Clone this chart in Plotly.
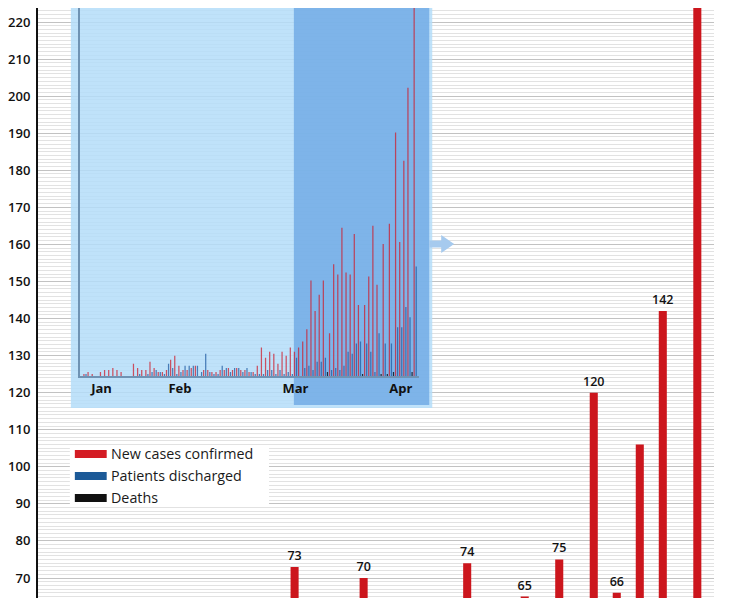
import plotly.graph_objects as go

# daily figures, first reported day -> latest day
NEW_CASES = [1, 2, 1, 0, 2, 3, 3, 4, 3, 2, 0, 0, 6, 4, 3, 3, 7, 4, 2, 2,
             3, 8, 10, 5, 3, 3, 4, 5, 0, 3, 3, 2, 2, 3, 3, 4, 3, 4, 3, 3,
             2, 2, 5, 14, 9, 12, 11, 6, 12, 10, 14, 12, 14, 17, 23, 47, 32, 40, 47, 21,
             55, 50, 73, 51, 50, 70, 35, 35, 49, 74, 45, 65, 75, 120, 66, 106, 142, 248]
DISCHARGED = [1, 0, 0, 0, 0, 0, 0, 0, 0, 0, 0, 0, 0, 1, 0, 1, 2, 3, 2, 1,
              6, 4, 1, 2, 5, 5, 5, 5, 2, 11, 2, 1, 1, 5, 4, 2, 4, 4, 2, 4,
              2, 1, 1, 1, 3, 3, 1, 3, 1, 2, 1, 9, 0, 4, 5, 3, 7, 7, 9, 3,
              4, 3, 5, 12, 11, 16, 17, 16, 12, 2, 21, 16, 16, 24, 24, 34, 29, 54]
DEATHS = [0, 0, 0, 0, 0, 0, 0, 0, 0, 0, 0, 0, 0, 0, 0, 0, 0, 0, 0, 0,
          0, 0, 0, 0, 0, 0, 0, 0, 0, 0, 0, 0, 0, 0, 0, 0, 0, 0, 0, 0,
          0, 0, 0, 0, 0, 0, 0, 0, 0, 0, 0, 0, 0, 0, 0, 0, 0, 0, 2, 0,
          0, 0, 0, 0, 0, 0, 1, 0, 0, 0, 1, 1, 2, 0, 0, 0, 2, 0]

MONTH_LABELS = ["Jan", "Feb", "Mar", "Apr"]
MONTH_LABEL_DAYS = [4, 23, 51, 74]
UNLABELED_DAYS = [75, 77]
VIEW_DAY = 62  # the "73" day, used to place the zoomed window

RED = "#cc161d"
BLUE = "#1c5a98"
BLACK = "#111111"
INSET_RED = "rgba(205,30,45,0.75)"
INSET_BLUE = "rgba(30,90,160,0.75)"
INSET_BLACK = "rgba(0,0,0,0.75)"
FONT = "Open Sans"

W, H = 747, 598
OFF = 8  # page margin around the plot div
L, R = 35 - OFF, W - (714 - OFF)
PW = W - L - R
# y scale: 220 at screen y=22, 70 at y=578
PX_PER_UNIT = (578 - 22) / 150
Y1 = 220 + (22 - OFF) / PX_PER_UNIT
Y0 = 70 - (H + OFF - 578) / PX_PER_UNIT

# each day takes a slot for cases, one for discharged, one more if there were deaths
slots = []
s = 0
for d in DEATHS:
    slots.append(s)
    s += 3 if d > 0 else 2

anchor = slots[VIEW_DAY]
X0, X1 = anchor - 22.3, anchor + 36.45


def dx(px):
    return X0 + (px - 35) / PW * (X1 - X0)


def dy(py):
    return Y1 - (py - OFF) / H * (Y1 - Y0)


def paper_x(px):
    return (px - 35) / PW


def paper_y(py):
    return (H + OFF - py) / H


labels = [
    str(v) if v >= 65 and i not in UNLABELED_DAYS else ""
    for i, v in enumerate(NEW_CASES)
]
death_x = [sl + 2 for sl, d in zip(slots, DEATHS) if d > 0]
death_y = [d for d in DEATHS if d > 0]
blue_x = [sl + 1 for sl in slots]

fig = go.Figure()

# main zoomed chart
fig.add_bar(x=slots, y=NEW_CASES, width=0.7, marker_color=RED, marker_line_width=0,
            text=labels, textposition="outside", constraintext="none", cliponaxis=True,
            textfont=dict(family=FONT, size=12.5, color="#111", weight=600))
fig.add_bar(x=blue_x, y=DISCHARGED, width=0.7, marker_color=BLUE, marker_line_width=0)
fig.add_bar(x=death_x, y=death_y, width=0.7, marker_color=BLACK, marker_line_width=0)

# inset overview
fig.add_bar(x=slots, y=NEW_CASES, width=0.6, marker_color=INSET_RED, marker_line_width=0,
            xaxis="x2", yaxis="y2")
fig.add_bar(x=blue_x, y=DISCHARGED, width=0.6, marker_color=INSET_BLUE, marker_line_width=0,
            xaxis="x2", yaxis="y2")
fig.add_bar(x=death_x, y=death_y, width=0.6, marker_color=INSET_BLACK, marker_line_width=0,
            xaxis="x2", yaxis="y2")

shapes = [
    dict(type="rect", xref="x", yref="y", layer="between",
         x0=dx(68), x1=dx(431), y0=dy(408), y1=dy(-5),
         fillcolor="#b4ddf9", opacity=0.85, line_width=0),
    dict(type="rect", xref="x", yref="y", layer="between",
         x0=dx(292), x1=dx(428), y0=dy(405), y1=dy(-5),
         fillcolor="#72ace5", opacity=0.85, line_width=0),
    dict(type="path", xref="x", yref="y", layer="between",
         path=(f"M{dx(428)},{dy(240.5)} L{dx(440)},{dy(240.5)} L{dx(440)},{dy(235)} "
               f"L{dx(453)},{dy(244)} L{dx(440)},{dy(253)} L{dx(440)},{dy(247.5)} "
               f"L{dx(428)},{dy(247.5)} Z"),
         fillcolor="#a6caee", line_width=0),
    dict(type="rect", xref="paper", yref="paper", layer="above",
         x0=paper_x(67), x1=paper_x(267), y0=paper_y(507), y1=paper_y(445),
         fillcolor="white", line_width=0),
]
annotations = []
for i, (name, color) in enumerate([("New cases confirmed", "#d41c24"),
                                   ("Patients discharged", BLUE),
                                   ("Deaths", BLACK)]):
    cy = 454 + 22 * i
    shapes.append(dict(type="rect", xref="paper", yref="paper", layer="above",
                       x0=paper_x(72), x1=paper_x(104), y0=paper_y(cy + 4), y1=paper_y(cy - 4),
                       fillcolor=color, line_width=0))
    annotations.append(dict(text=name, xref="paper", yref="paper", x=paper_x(106),
                            y=paper_y(cy - 1), xanchor="left", yanchor="middle",
                            showarrow=False,
                            font=dict(family=FONT, size=14.3, color="#1a1a1a")))

fig.update_layout(
    width=W, height=H,
    margin=dict(l=L, r=R, t=0, b=0),
    paper_bgcolor="white",
    plot_bgcolor="rgba(0,0,0,0)",
    barmode="overlay",
    showlegend=False,
    shapes=shapes,
    annotations=annotations,
    xaxis=dict(range=[X0, X1], showgrid=False, zeroline=False, showticklabels=False,
               showline=False, ticks=""),
    yaxis=dict(range=[Y0, Y1], tickvals=list(range(70, 221, 10)), showgrid=True,
               gridcolor="#c2c2c2", gridwidth=1,
               minor=dict(dtick=1, showgrid=True, gridcolor="#e2e2e2", gridwidth=1),
               showline=True, linecolor="#111", linewidth=2, zeroline=False, ticks="",
               ticklabelstandoff=3,
               tickfont=dict(family=FONT, size=13, color="#111", weight=600)),
    xaxis2=dict(domain=[paper_x(77), paper_x(418)], anchor="y2",
                range=[slots[0] - 2, slots[-1] + 2.5],
                showgrid=False, zeroline=False, showline=True, linecolor="#6f93b4",
                linewidth=1.5, ticks="",
                tickvals=[slots[d] + 0.5 for d in MONTH_LABEL_DAYS], ticktext=MONTH_LABELS,
                tickfont=dict(family=FONT, size=13, color="#111", weight=700)),
    yaxis2=dict(domain=[paper_y(376), 1], anchor="x2", range=[0, (376 - OFF) / 2.03],
                showgrid=False, zeroline=False, showline=True, linecolor="#6f93b4",
                linewidth=1.5, showticklabels=False, ticks=""),
)

fig.write_html("out.html")
